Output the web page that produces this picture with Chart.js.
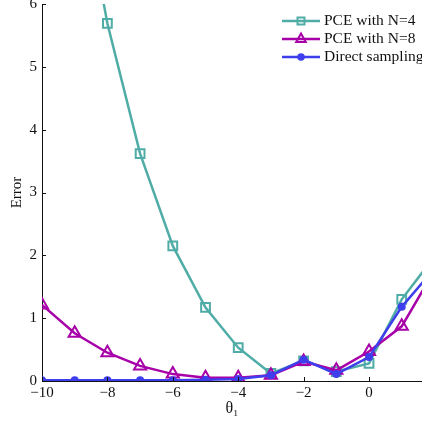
<!DOCTYPE html>
<html>
<head>
<meta charset="utf-8">
<script src="https://cdn.jsdelivr.net/npm/chart.js@4.4.1/dist/chart.umd.min.js"></script>
<style>
  html, body { margin: 0; padding: 0; background: #fff; overflow: hidden; }
  canvas { display: block; }
</style>
</head>
<body>
<canvas id="myChart" width="422" height="421"></canvas>
<script>
// theta_1 values and error curves
const theta = [-10, -9, -8, -7, -6, -5, -4, -3, -2, -1, 0, 1, 2];
const pceN4 = [12.3, 8.5, 5.69, 3.62, 2.15, 1.17, 0.53, 0.12, 0.32, 0.15, 0.28, 1.3, 1.98];
const pceN8 = [1.21, 0.76, 0.45, 0.24, 0.11, 0.05, 0.05, 0.09, 0.31, 0.17, 0.47, 0.87, 1.76];
const direct = [0.01, 0.01, 0.01, 0.01, 0.01, 0.02, 0.03, 0.09, 0.34, 0.11, 0.38, 1.18, 1.79];
const seriesNames = ["PCE with N=4", "PCE with N=8", "Direct sampling"];
const yTicks = [0, 1, 2, 3, 4, 5, 6];
const xTicks = [-10, -8, -6, -4, -2, 0];

const teal = "rgb(80,172,166)";
const magenta = "rgb(168,0,168)";
const blue = "rgb(62,62,236)";
const ink = "#111";
const serif = "'Liberation Serif', 'DejaVu Serif', serif";

function pts(ys) {
  return theta.map((t, i) => ({ x: t, y: ys[i] }));
}
function minus(v) {
  return String(v).replace("-", "\u2212");
}

const ctx = document.getElementById("myChart").getContext("2d");

// MATLAB style inward tick marks
const inwardTicks = {
  id: "inwardTicks",
  afterDraw(chart) {
    const c = chart.ctx;
    const x = chart.scales.x, y = chart.scales.y;
    const a = chart.chartArea;
    c.save();
    c.strokeStyle = ink;
    c.lineWidth = 1;
    c.beginPath();
    xTicks.forEach((v) => {
      const px = Math.round(x.getPixelForValue(v)) + 0.5;
      c.moveTo(px, a.bottom);
      c.lineTo(px, a.bottom - 4);
    });
    yTicks.forEach((v) => {
      const py = Math.round(y.getPixelForValue(v)) + 0.5;
      c.moveTo(a.left, py);
      c.lineTo(a.left + 4, py);
    });
    c.stroke();
    c.restore();
  },
};

// legend with line + marker samples
const lineLegend = {
  id: "lineLegend",
  afterDraw(chart) {
    const c = chart.ctx;
    const rows = [21, 39, 57];
    c.save();
    c.font = "15.5px " + serif;
    c.textBaseline = "middle";
    c.textAlign = "left";
    chart.data.datasets.forEach((ds, i) => {
      const yy = rows[i];
      c.strokeStyle = ds.borderColor;
      c.lineWidth = ds.borderWidth;
      c.beginPath();
      c.moveTo(282, yy);
      c.lineTo(320, yy);
      c.stroke();
      c.lineWidth = 2;
      c.beginPath();
      if (ds.pointStyle === "rect") {
        c.rect(297.5, yy - 3.5, 7, 7);
        c.stroke();
      } else if (ds.pointStyle === "triangle") {
        c.moveTo(301, yy - 5.5);
        c.lineTo(305.8, yy + 3);
        c.lineTo(296.2, yy + 3);
        c.closePath();
        c.stroke();
      } else {
        c.fillStyle = ds.borderColor;
        c.arc(301, yy, 3.8, 0, Math.PI * 2);
        c.fill();
      }
      c.fillStyle = ink;
      c.fillText(ds.label, 324, yy);
    });
    c.restore();
  },
};

const myChart = new Chart(ctx, {
  type: "line",
  data: {
    datasets: [
      {
        label: seriesNames[0],
        data: pts(pceN4),
        borderColor: teal,
        backgroundColor: "rgba(0,0,0,0)",
        borderWidth: 2.5,
        pointStyle: "rect",
        pointRadius: 6.2,
        pointBorderWidth: 2,
        pointBackgroundColor: "rgba(0,0,0,0)",
        order: 3,
      },
      {
        label: seriesNames[1],
        data: pts(pceN8),
        borderColor: magenta,
        backgroundColor: "rgba(0,0,0,0)",
        borderWidth: 2.5,
        pointStyle: "triangle",
        pointRadius: 7,
        pointBorderWidth: 2,
        pointBackgroundColor: "rgba(0,0,0,0)",
        order: 2,
      },
      {
        label: seriesNames[2],
        data: pts(direct),
        borderColor: blue,
        backgroundColor: blue,
        borderWidth: 2.5,
        pointStyle: "circle",
        pointRadius: 4,
        pointBorderWidth: 0,
        pointBackgroundColor: blue,
        order: 1,
      },
    ],
  },
  options: {
    responsive: false,
    animation: false,
    devicePixelRatio: 1,
    layout: { autoPadding: false, padding: { top: 4, right: 0, bottom: 0, left: 0 } },
    plugins: {
      legend: { display: false },
      tooltip: { enabled: false },
    },
    elements: { line: { tension: 0 } },
    scales: {
      x: {
        type: "linear",
        min: -10,
        max: 1.62,
        afterFit(scale) {
          scale.height = 40;
          scale.paddingRight = 0;
        },
        afterBuildTicks(scale) {
          scale.ticks = xTicks.map((v) => ({ value: v }));
        },
        ticks: {
          color: ink,
          padding: 3,
          font: { family: serif, size: 15 },
          callback: (v) => minus(v),
          maxRotation: 0,
        },
        grid: { display: false, drawTicks: false },
        border: { display: true, color: ink, width: 1 },
        title: {
          display: true,
          text: "θ₁",
          color: ink,
          font: { family: serif, size: 16 },
          padding: { top: 0, bottom: 3 },
        },
      },
      y: {
        min: 0,
        max: 6,
        afterFit(scale) {
          scale.width = 42;
          scale.paddingTop = 0;
        },
        afterBuildTicks(scale) {
          scale.ticks = yTicks.map((v) => ({ value: v }));
        },
        ticks: {
          color: ink,
          padding: 5,
          font: { family: serif, size: 15 },
          callback: (v) => minus(v),
        },
        grid: { display: false, drawTicks: false },
        border: { display: true, color: ink, width: 1 },
        title: {
          display: true,
          text: "Error",
          color: ink,
          font: { family: serif, size: 15 },
          padding: { top: 8, bottom: 0 },
        },
      },
    },
  },
  plugins: [inwardTicks, lineLegend],
});
</script>
</body>
</html>
